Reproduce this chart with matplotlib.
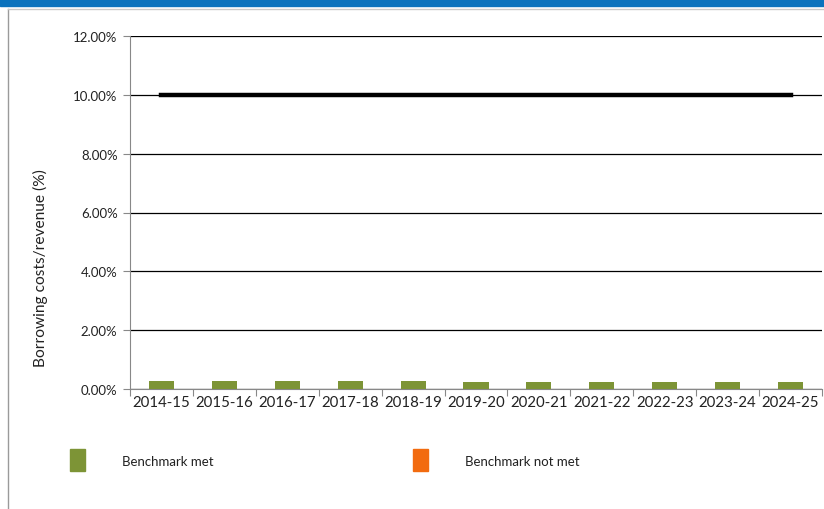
import matplotlib
matplotlib.use("Agg")
import matplotlib.pyplot as plt
from matplotlib.patches import Rectangle
from matplotlib.lines import Line2D

years = ["2014-15", "2015-16", "2016-17", "2017-18", "2018-19", "2019-20",
         "2020-21", "2021-22", "2022-23", "2023-24", "2024-25"]
ratio = [0.28, 0.28, 0.28, 0.28, 0.28, 0.23, 0.23, 0.23, 0.23, 0.23, 0.23]
benchmark = [10.0] * len(years)
yticks = [0, 2, 4, 6, 8, 10, 12]

plt.rcParams["font.family"] = ["Lato", "DejaVu Sans"]

fig = plt.figure(figsize=(8.24, 5.10), dpi=100)

# Header strip and frame
fig.patches.append(Rectangle((0, 1 - 7 / 510), 1, 7 / 510, transform=fig.transFigure,
                             color="#0a72bd", zorder=0))
fig.lines.append(Line2D([8 / 824, 8 / 824], [0, 1 - 10 / 510], transform=fig.transFigure,
                        color="#9a9a9a", lw=1))
fig.lines.append(Line2D([8 / 824, 1], [1 - 10 / 510, 1 - 10 / 510], transform=fig.transFigure,
                        color="#c8c8c8", lw=1))

ax = fig.add_axes([130 / 824, 1 - 390 / 510, 692 / 824, 353 / 510])
x = list(range(len(years)))
ax.bar(x, ratio, width=0.4, color="#7d9436", zorder=3)
ax.plot(x, benchmark, color="black", lw=3.2, zorder=4)

ax.set_xlim(-0.5, len(years) - 0.5)
ax.set_ylim(0, 12)
ax.set_yticks(yticks)
ax.set_yticklabels([f"{v:.2f}%" for v in yticks], fontsize=9.5, color="#222222")
ax.yaxis.grid(True, color="black", lw=0.9, zorder=1)
ax.set_axisbelow(True)
ax.tick_params(axis="y", length=5, width=0.8, color="#888888", pad=4)

ax.set_xticks(x)
ax.set_xticklabels(years, fontsize=10.8, color="#222222")
ax.set_xticks([i - 0.5 for i in range(len(years) + 1)], minor=True)
ax.tick_params(axis="x", which="major", length=0, pad=4)
ax.tick_params(axis="x", which="minor", length=5, width=0.8, color="#888888")

for side in ["top", "right"]:
    ax.spines[side].set_visible(False)
ax.spines["left"].set_color("#888888")
ax.spines["bottom"].set_color("#888888")
ax.spines["left"].set_linewidth(0.8)
ax.spines["bottom"].set_linewidth(0.8)

ax.set_ylabel("Borrowing costs/revenue (%)", fontsize=11.2, color="#222222")
ax.yaxis.set_label_coords(-0.118, 0.346)

# Legend
fig.patches.append(Rectangle((70 / 824, 1 - 472 / 510), 15 / 824, 22 / 510,
                             transform=fig.transFigure, color="#7d9436"))
fig.text(122 / 824, 1 - 462 / 510, "Benchmark met", fontsize=9.5, va="center", color="#222222")
fig.patches.append(Rectangle((413 / 824, 1 - 472 / 510), 15 / 824, 22 / 510,
                             transform=fig.transFigure, color="#f26b0f"))
fig.text(465 / 824, 1 - 462 / 510, "Benchmark not met", fontsize=9.5, va="center", color="#222222")

fig.savefig("out.png", dpi=100)
